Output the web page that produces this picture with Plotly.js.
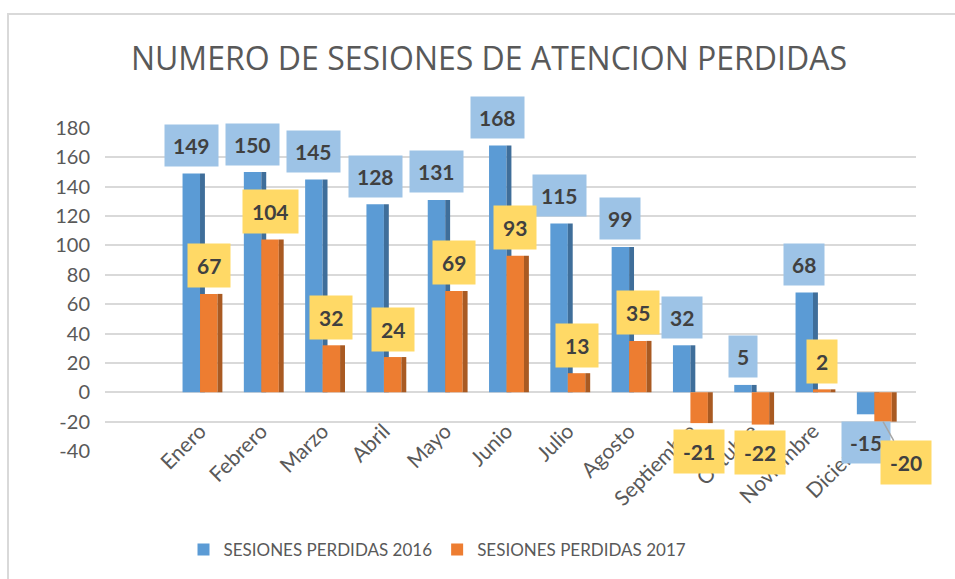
<!DOCTYPE html>
<html>
<head>
<meta charset="utf-8">
<script src="https://cdn.plot.ly/plotly-3.0.1.min.js"></script>
<style>
  html, body { margin: 0; padding: 0; background: #ffffff; }
  #frame { position: absolute; left: 7px; top: 13px; width: 948px; height: 566px;
           border-left: 2px solid #d9d9d9; border-top: 2px solid #d9d9d9; box-sizing: border-box; }
  #chart { position: absolute; left: 0; top: 0; width: 955px; height: 579px; }
</style>
</head>
<body>
<div id="frame"></div>
<div id="chart"></div>
<script>
// ---- data ----
const meses = ["Enero", "Febrero", "Marzo", "Abril", "Mayo", "Junio", "Julio",
               "Agosto", "Septiembre", "Octubre", "Noviembre", "Diciembre"];
const perdidas2016 = [149, 150, 145, 128, 131, 168, 115, 99, 32, 5, 68, -15];
const perdidas2017 = [67, 104, 32, 24, 69, 93, 13, 35, -21, -22, 2, -20];
const nombre2016 = "SESIONES PERDIDAS 2016";
const nombre2017 = "SESIONES PERDIDAS 2017";
const titulo = "NUMERO DE SESIONES DE ATENCION PERDIDAS";
const yTicks = [-40, -20, 0, 20, 40, 60, 80, 100, 120, 140, 160, 180];

// ---- style ----
const azul = "#5B9BD5", naranja = "#ED7D31";
const azulLado = "#3F6E9A", naranjaLado = "#A95A22";
const cajaAzul = "#9DC3E6", cajaAmarilla = "#FFD966";
const gris = "#595959", textoEtiqueta = "#404040";
const bw = 0.285;   // bar width (category units)
const sw = 0.08;    // side-face width
const half = bw / 2;

const idx = meses.map((_, i) => i);

const traces = [
  { type: "bar", name: nombre2016, x: idx, y: perdidas2016, offset: -bw, width: bw,
    marker: { color: azul, line: { width: 0 } }, hoverinfo: "none" },
  { type: "bar", name: nombre2016 + " lado", x: idx, y: perdidas2016, offset: 0, width: sw,
    marker: { color: azulLado, line: { width: 0 } }, hoverinfo: "none", showlegend: false },
  { type: "bar", name: nombre2017, x: idx, y: perdidas2017, offset: 0, width: bw,
    marker: { color: naranja, line: { width: 0 } }, hoverinfo: "none" },
  { type: "bar", name: nombre2017 + " lado", x: idx, y: perdidas2017, offset: bw, width: sw,
    marker: { color: naranjaLado, line: { width: 0 } }, hoverinfo: "none", showlegend: false }
];

const fontLbl = { family: "Lato, 'Open Sans', sans-serif", size: 21, color: textoEtiqueta, weight: 700 };
const annotations = [];
function addLabel(i, v, off, bg, pad, special) {
  const a = {
    x: i + off, y: v, xref: "x", yref: "y",
    text: "<b>" + String(v) + "</b>",
    font: fontLbl, bgcolor: bg, borderpad: pad,
    showarrow: false,
    yshift: v >= 0 ? 28 : -28
  };
  if (special) {
    a.showarrow = true; a.arrowhead = 0; a.arrowwidth = 1.5; a.arrowcolor = "#a6a6a6";
    a.ax = 23; a.ay = 41; a.yshift = 0; a.standoff = 0;
  }
  annotations.push(a);
}
perdidas2016.forEach((v, i) => addLabel(i, v, -half, cajaAzul, 8, false));
perdidas2017.forEach((v, i) => addLabel(i, v, half, cajaAmarilla, 9, i === perdidas2017.length - 1));

const layout = {
  width: 955, height: 579,
  margin: { l: 105, r: 39, t: 128, b: 127 },
  paper_bgcolor: "rgba(0,0,0,0)",
  plot_bgcolor: "rgba(0,0,0,0)",
  font: { family: "Lato, 'Open Sans', sans-serif", color: gris },
  title: {
    text: titulo, x: 0.512, xref: "container", xanchor: "center",
    y: 0.898, yref: "container", yanchor: "middle",
    font: { family: "'Open Sans', sans-serif", size: 32, color: gris }
  },
  barmode: "overlay",
  xaxis: {
    range: [-1.55, 11.68], tickmode: "array", tickvals: idx, ticktext: meses,
    tickangle: -45, tickfont: { size: 21, color: gris }, showgrid: false,
    zeroline: false, showline: false, ticks: "", anchor: "free", position: 0.115
  },
  yaxis: {
    range: [-40, 180], tickmode: "array", tickvals: yTicks, ticktext: yTicks.map(String),
    tickfont: { size: 20, color: gris }, showgrid: true, gridcolor: "#d9d9d9", gridwidth: 2,
    zeroline: true, zerolinecolor: "#d9d9d9", zerolinewidth: 2, showline: false, ticks: "",
    ticklabelstandoff: 14
  },
  showlegend: true,
  legend: {
    orientation: "h", x: 0.41, xanchor: "center", y: -0.302, yanchor: "middle",
    font: { size: 17, color: gris }, itemwidth: 30, traceorder: "normal"
  },
  annotations: annotations
};

Plotly.newPlot("chart", traces, layout, { displayModeBar: false, staticPlot: true });
</script>
</body>
</html>
